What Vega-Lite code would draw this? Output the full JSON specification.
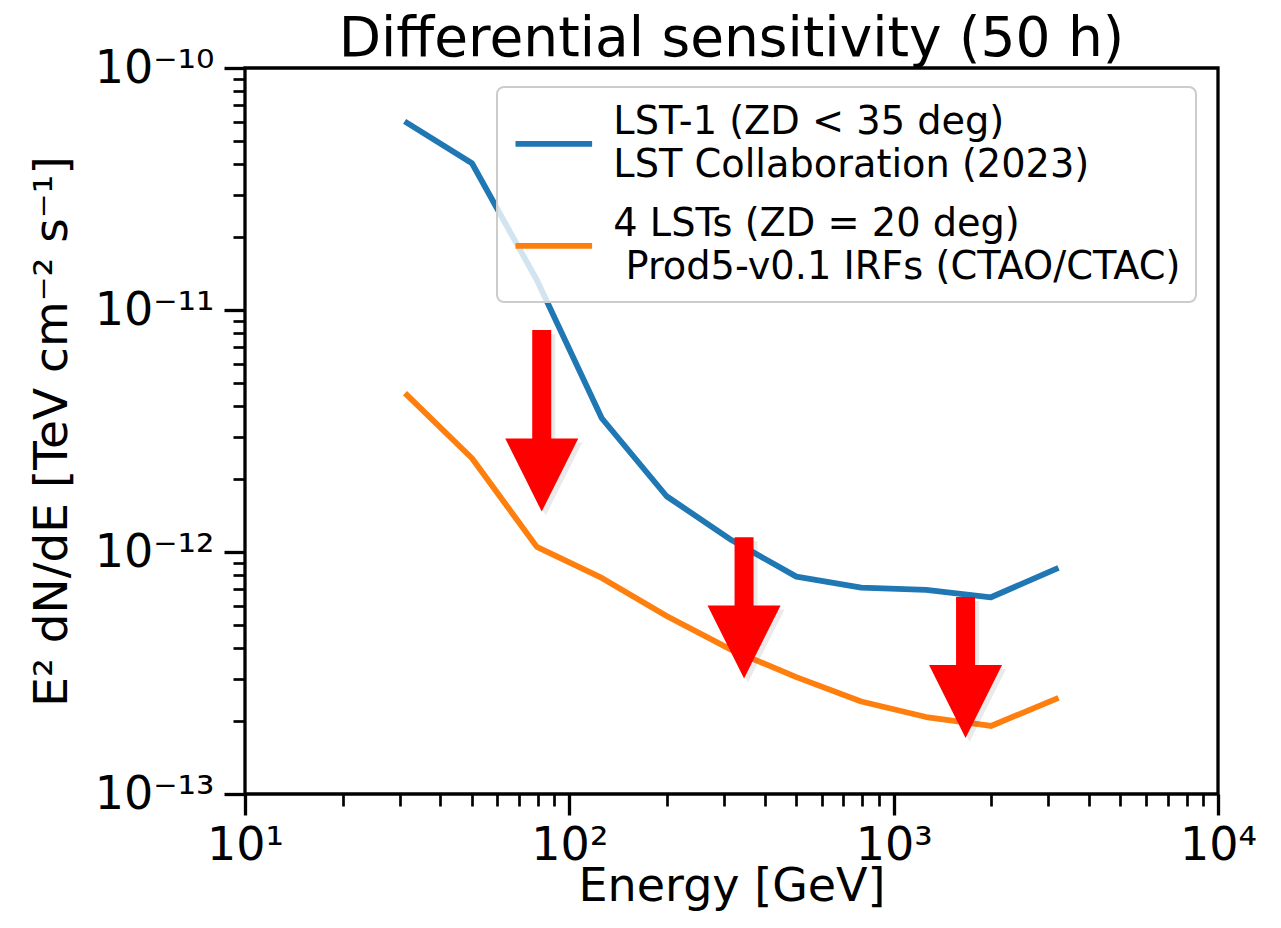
{
  "$schema": "https://vega.github.io/schema/vega-lite/v6.json",
  "width": 973,
  "height": 726,
  "autosize": "none",
  "padding": {"left": 245, "top": 68, "right": 63, "bottom": 134},
  "background": "white",
  "title": {
    "text": "Differential sensitivity (50 h)",
    "fontSize": 55,
    "fontWeight": "normal",
    "font": "DejaVu Sans",
    "color": "black",
    "anchor": "middle",
    "frame": "group",
    "offset": -23
  },
  "config": {
    "view": {"stroke": "black", "strokeWidth": 3.3},
    "font": "DejaVu Sans"
  },
  "datasets": {
    "sens": [
      {"energy": 31.6, "value": 5.93e-11, "series": "LST-1 (ZD < 35 deg)|LST Collaboration (2023)"},
      {"energy": 50.1, "value": 4.04e-11, "series": "LST-1 (ZD < 35 deg)|LST Collaboration (2023)"},
      {"energy": 79.4, "value": 1.33e-11, "series": "LST-1 (ZD < 35 deg)|LST Collaboration (2023)"},
      {"energy": 125.9, "value": 3.57e-12, "series": "LST-1 (ZD < 35 deg)|LST Collaboration (2023)"},
      {"energy": 199.5, "value": 1.70e-12, "series": "LST-1 (ZD < 35 deg)|LST Collaboration (2023)"},
      {"energy": 316.2, "value": 1.12e-12, "series": "LST-1 (ZD < 35 deg)|LST Collaboration (2023)"},
      {"energy": 501.2, "value": 7.91e-13, "series": "LST-1 (ZD < 35 deg)|LST Collaboration (2023)"},
      {"energy": 794.3, "value": 7.12e-13, "series": "LST-1 (ZD < 35 deg)|LST Collaboration (2023)"},
      {"energy": 1258.9, "value": 6.97e-13, "series": "LST-1 (ZD < 35 deg)|LST Collaboration (2023)"},
      {"energy": 1995.3, "value": 6.50e-13, "series": "LST-1 (ZD < 35 deg)|LST Collaboration (2023)"},
      {"energy": 3162.3, "value": 8.51e-13, "series": "LST-1 (ZD < 35 deg)|LST Collaboration (2023)"},
      {"energy": 31.6, "value": 4.45e-12, "series": "4 LSTs (ZD = 20 deg)|\u200b\u00a0Prod5-v0.1 IRFs (CTAO/CTAC)"},
      {"energy": 50.1, "value": 2.44e-12, "series": "4 LSTs (ZD = 20 deg)|\u200b\u00a0Prod5-v0.1 IRFs (CTAO/CTAC)"},
      {"energy": 79.4, "value": 1.05e-12, "series": "4 LSTs (ZD = 20 deg)|\u200b\u00a0Prod5-v0.1 IRFs (CTAO/CTAC)"},
      {"energy": 125.9, "value": 7.81e-13, "series": "4 LSTs (ZD = 20 deg)|\u200b\u00a0Prod5-v0.1 IRFs (CTAO/CTAC)"},
      {"energy": 199.5, "value": 5.44e-13, "series": "4 LSTs (ZD = 20 deg)|\u200b\u00a0Prod5-v0.1 IRFs (CTAO/CTAC)"},
      {"energy": 316.2, "value": 3.94e-13, "series": "4 LSTs (ZD = 20 deg)|\u200b\u00a0Prod5-v0.1 IRFs (CTAO/CTAC)"},
      {"energy": 501.2, "value": 3.04e-13, "series": "4 LSTs (ZD = 20 deg)|\u200b\u00a0Prod5-v0.1 IRFs (CTAO/CTAC)"},
      {"energy": 794.3, "value": 2.41e-13, "series": "4 LSTs (ZD = 20 deg)|\u200b\u00a0Prod5-v0.1 IRFs (CTAO/CTAC)"},
      {"energy": 1258.9, "value": 2.08e-13, "series": "4 LSTs (ZD = 20 deg)|\u200b\u00a0Prod5-v0.1 IRFs (CTAO/CTAC)"},
      {"energy": 1995.3, "value": 1.91e-13, "series": "4 LSTs (ZD = 20 deg)|\u200b\u00a0Prod5-v0.1 IRFs (CTAO/CTAC)"},
      {"energy": 3162.3, "value": 2.47e-13, "series": "4 LSTs (ZD = 20 deg)|\u200b\u00a0Prod5-v0.1 IRFs (CTAO/CTAC)"}
    ],
    "arrows": [
      {"energy": 82.2, "top": 8.27e-12, "head": 2.08e-12},
      {"energy": 345.7, "top": 1.15e-12, "head": 4.25e-13},
      {"energy": 1666, "top": 6.52e-13, "head": 2.41e-13}
    ]
  },
  "layer": [
    {
      "data": {"name": "sens"},
      "mark": {"type": "line", "strokeWidth": 5.8, "strokeCap": "square", "strokeJoin": "round"},
      "encoding": {
        "x": {
          "field": "energy", "type": "quantitative",
          "scale": {"type": "log", "domain": [10, 10000], "nice": false},
          "axis": {
            "values": [10, 100, 1000, 10000],
            "labelExpr": "datum.value < 50 ? '10¹' : datum.value < 500 ? '10²' : datum.value < 5000 ? '10³' : '10⁴'",
            "title": "Energy [GeV]",
            "grid": false, "domain": false,
            "tickSize": 21, "tickWidth": 3.3, "tickColor": "black",
            "labelFont": "DejaVu Sans", "labelFontSize": 46, "labelColor": "black",
            "labelPadding": 8, "labelFlush": false, "labelOverlap": false, "labelBound": false,
            "titleFont": "DejaVu Sans", "titleFontSize": 46, "titleFontWeight": "normal", "titleColor": "black",
            "titlePadding": -4
          }
        },
        "y": {
          "field": "value", "type": "quantitative",
          "scale": {"type": "log", "domain": [1e-13, 1e-10], "nice": false},
          "axis": {
            "values": [1e-13, 1e-12, 1e-11, 1e-10],
            "labelExpr": "datum.value < 5e-13 ? '10⁻¹³' : datum.value < 5e-12 ? '10⁻¹²' : datum.value < 5e-11 ? '10⁻¹¹' : '10⁻¹⁰'",
            "title": "E² dN/dE [TeV cm⁻² s⁻¹]",
            "grid": false, "domain": false,
            "tickSize": 21, "tickWidth": 3.3, "tickColor": "black",
            "labelFont": "DejaVu Sans", "labelFontSize": 46, "labelColor": "black",
            "labelPadding": 10, "labelFlush": false, "labelOverlap": false, "labelBound": false,
            "titleFont": "DejaVu Sans", "titleFontSize": 47, "titleFontWeight": "normal", "titleColor": "black",
            "titlePadding": 18
          }
        },
        "color": {
          "field": "series", "type": "nominal",
          "scale": {
            "domain": ["LST-1 (ZD < 35 deg)|LST Collaboration (2023)", "4 LSTs (ZD = 20 deg)|\u200b\u00a0Prod5-v0.1 IRFs (CTAO/CTAC)"],
            "range": ["#1f77b4", "#ff7f0e"]
          },
          "legend": {
            "orient": "none", "legendX": 252, "legendY": 19,
            "title": null,
            "symbolType": "stroke", "symbolSize": 5868, "symbolStrokeWidth": 5.8,
            "labelFont": "DejaVu Sans", "labelFontSize": 38.3, "labelColor": "black", "labelLimit": 900,
            "labelOffset": 18,
            "labelExpr": "split(datum.label, '|')",
            "padding": 15.3, "rowPadding": 20,
            "strokeColor": "#cccccc", "fillColor": "rgba(255,255,255,0.8)", "cornerRadius": 7,
            "encode": {
              "labels": {"update": {"lineHeight": {"value": 43}, "dy": {"value": -21}}},
              "legend": {"update": {"strokeWidth": {"value": 2}}}
            }
          }
        }
      }
    },
    {
      "data": {"name": "arrows"},
      "mark": {"type": "rule", "strokeWidth": 19, "strokeCap": "butt", "color": "#555555", "opacity": 0.12, "xOffset": 4, "yOffset": 4},
      "encoding": {
        "x": {"field": "energy", "type": "quantitative", "scale": {"type": "log", "domain": [10, 10000], "nice": false}, "axis": null},
        "y": {"field": "top", "type": "quantitative", "scale": {"type": "log", "domain": [1e-13, 1e-10], "nice": false}, "axis": null},
        "y2": {"field": "head"}
      }
    },
    {
      "data": {"name": "arrows"},
      "mark": {"type": "point", "shape": "M-1,-1L1,-1L0,1Z", "size": 5329, "filled": true, "color": "#555555", "opacity": 0.12, "strokeWidth": 0, "xOffset": 4, "yOffset": 4},
      "encoding": {
        "x": {"field": "energy", "type": "quantitative", "scale": {"type": "log", "domain": [10, 10000], "nice": false}, "axis": null},
        "y": {"field": "head", "type": "quantitative", "scale": {"type": "log", "domain": [1e-13, 1e-10], "nice": false}, "axis": null}
      }
    },
    {
      "data": {"name": "arrows"},
      "mark": {"type": "rule", "strokeWidth": 19, "strokeCap": "butt", "color": "#ff0000"},
      "encoding": {
        "x": {
          "field": "energy", "type": "quantitative",
          "scale": {"type": "log", "domain": [10, 10000], "nice": false},
          "axis": {
            "orient": "bottom",
            "values": [20, 30, 40, 50, 60, 70, 80, 90, 200, 300, 400, 500, 600, 700, 800, 900, 2000, 3000, 4000, 5000, 6000, 7000, 8000, 9000],
            "labels": false, "domain": false, "grid": false, "title": null,
            "tickSize": 12, "tickWidth": 2.7, "tickColor": "black"
          }
        },
        "y": {
          "field": "top", "type": "quantitative",
          "scale": {"type": "log", "domain": [1e-13, 1e-10], "nice": false},
          "axis": {
            "orient": "left",
            "values": [2e-13, 3e-13, 4e-13, 5e-13, 6e-13, 7e-13, 8e-13, 9e-13, 2e-12, 3e-12, 4e-12, 5e-12, 6e-12, 7e-12, 8e-12, 9e-12, 2e-11, 3e-11, 4e-11, 5e-11, 6e-11, 7e-11, 8e-11, 9e-11],
            "labels": false, "domain": false, "grid": false, "title": null,
            "tickSize": 12, "tickWidth": 2.7, "tickColor": "black"
          }
        },
        "y2": {"field": "head"}
      }
    },
    {
      "data": {"name": "arrows"},
      "mark": {"type": "point", "shape": "M-1,-1L1,-1L0,1Z", "size": 5329, "filled": true, "color": "#ff0000", "opacity": 1, "strokeWidth": 0},
      "encoding": {
        "x": {"field": "energy", "type": "quantitative", "scale": {"type": "log", "domain": [10, 10000], "nice": false}, "axis": null},
        "y": {"field": "head", "type": "quantitative", "scale": {"type": "log", "domain": [1e-13, 1e-10], "nice": false}, "axis": null}
      }
    }
  ],
  "resolve": {"axis": {"x": "independent", "y": "independent"}}
}
